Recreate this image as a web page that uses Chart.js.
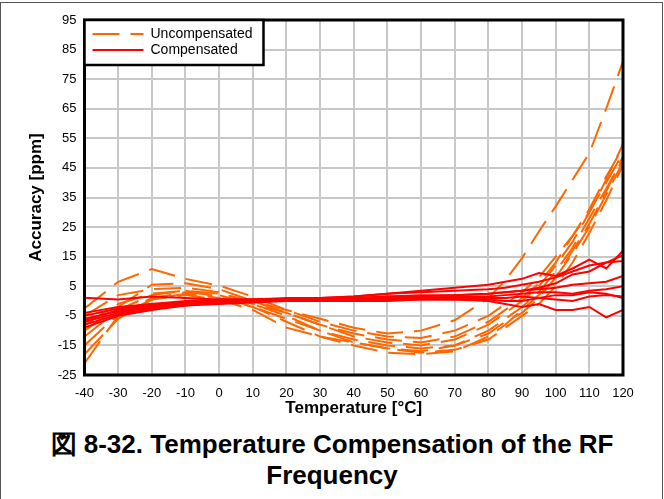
<!DOCTYPE html>
<html>
<head>
<meta charset="utf-8">
<script src="https://cdn.jsdelivr.net/npm/chart.js@4"></script>
<style>
  html, body { margin: 0; padding: 0; background: #fff; }
  body { width: 664px; height: 499px; overflow: hidden; position: relative; font-family: "Liberation Sans", Arial, sans-serif; }
  #frame { position: absolute; left: 0; top: 2px; width: 661px; height: 540px; border: 1px solid #555; }
  #wrap { position: absolute; left: 0; top: 0; width: 664px; height: 420px; }
  #caption { position: absolute; left: 0; top: 429px; width: 664px; text-align: center; font-weight: bold; font-size: 26px; line-height: 31px; color: #000; }
</style>
</head>
<body>
<div id="frame"></div>
<div id="wrap"><canvas id="chart" width="664" height="420"></canvas></div>
<div id="caption">図 8-32. Temperature Compensation of the RF<br>Frequency</div>
<script>
// temperatures (°C)
const temps = [-40, -30, -20, -10, 0, 10, 20, 30, 40, 50, 60, 70, 80, 85, 90, 95, 100, 105, 110, 115, 120];

// uncompensated units (ppm)
const uncomp1 = [-2.5, 6.5, 10.8, 7.5, 5.2, 1.5, -3, -7, -10, -12, -12.5, -10, -5, -1, 3, 8, 15, 22, 30, 40, 50];
const uncomp2 = [-8, -1, 2.5, 3.5, 2.5, 0, -3, -6, -9, -11, -10, -6.5, 1, 7, 14.5, 23.5, 32, 41, 50, 65, 81];
const uncomp3 = [-10, -2, 5.5, 6, 4, 0, -4, -8, -12, -14, -15, -13, -8, -4, 0, 5, 12, 20, 30, 41, 53];
const uncomp4 = [-15, -4.5, 1, 3, 2, -1, -5, -10, -14, -16, -17, -15, -10, -6, -2, 3, 10, 18, 28, 38, 48];
const uncomp5 = [-21, -5, 0.5, 2.5, 1, -2, -7, -12, -15, -17.5, -18, -17, -12, -8, -3, 2, 8, 16, 25, 36, 47];
const uncomp6 = [-5, 2, 4, 4.5, 3, -1, -4, -8, -11, -13, -14, -12, -7, -3, 1, 6, 13, 22, 31, 42, 52];
const uncomp7 = [-12, -3, 2, 3.5, 1.5, -2, -6, -10, -13, -15, -16, -15, -11, -7, -4, 1, 8, 17, 26, 37, 49];
const uncomp8 = [-18, -6, 0.5, 2, 0.5, -3, -9, -12, -14, -16, -17.5, -16.5, -13, -9, -5, -1, 5, 13, 23, 34, 46];

// compensated units (ppm)
const comp1 = [1.1, 0.5, 1.5, 1, 0.5, 0.5, 0.5, 1, 1.5, 2.5, 3.5, 4.5, 5.5, 6.5, 7.5, 9.5, 8.5, 11, 14, 11, 17];
const comp2 = [-5, -2.5, -1, 0, 0.5, 0.5, 1, 1, 1.5, 2.5, 3, 3.5, 4, 4.5, 5.5, 6.5, 8, 10, 12, 13, 15.5];
const comp3 = [-6, -3.5, -2, -1, 0, 0, 0.5, 0.5, 1, 1.5, 2, 2, 2.5, 3, 3.5, 4, 4.5, 5.5, 6, 6.5, 8.5];
const comp4 = [-7, -4, -2, -1, -0.5, 0, 0, 0.5, 0.5, 1, 1, 1.5, 1.5, 2, 2.5, 3, 3, 2.5, 3.5, 4, 5];
const comp5 = [-8, -4.5, -2.5, -1.5, -0.5, 0, 0, 0, 0.5, 0.5, 0.5, 0.5, 0.5, 0, 0, 1, 2, 2, 3, 2.5, 1];
const comp6 = [-9, -5, -3, -1.5, -1, -0.5, 0, 0, 0, 0, 0.5, 0.5, 0, -1, -2, -1, -3, -3, -2, -5.5, -3];
const comp7 = [-4, -2, -1, -0.5, 0, 0.5, 0.5, 0.5, 1, 1.5, 1.5, 2, 2.5, 3, 3.5, 4.5, 6, 9, 10, 13, 13.5];
const comp8 = [-6.5, -3, -1.5, -0.5, 0, 0.5, 0.5, 0.5, 1, 1, 1, 1, 1, 1, 1.5, 1, 0.5, 0, 1.5, 2, 1.5];

const uncompSeries = [uncomp1, uncomp2, uncomp3, uncomp4, uncomp5, uncomp6, uncomp7, uncomp8];
const compSeries = [comp1, comp2, comp3, comp4, comp5, comp6, comp7, comp8];

const legendLabels = ["Uncompensated", "Compensated"];
const xMin = -40, xMax = 120, xStep = 10;
const yMin = -25, yMax = 95, yStep = 10;

const ORANGE = "rgb(255,102,0)";
const RED = "rgb(255,0,0)";
const DASH = [27, 11];
const FONT = "'Liberation Sans', Arial, sans-serif";

function toPoints(vals) {
  return vals.map((v, i) => ({ x: temps[i], y: v }));
}

const datasets = [];
// first dataset is drawn on top, so compensated goes first
compSeries.forEach((s, i) => datasets.push({
  label: legendLabels[1] + " " + (i + 1),
  data: toPoints(s),
  borderColor: RED,
  borderWidth: 2,
  pointRadius: 0,
  tension: 0
}));
uncompSeries.forEach((s, i) => datasets.push({
  label: legendLabels[0] + " " + (i + 1),
  data: toPoints(s),
  borderColor: ORANGE,
  borderWidth: 2,
  borderDash: DASH,
  pointRadius: 0,
  tension: 0
}));

// frame around the plot and the boxed legend in the top-left corner
const frameAndLegend = {
  id: "frameAndLegend",
  afterDraw(chart) {
    const { ctx, chartArea: a } = chart;
    ctx.save();
    ctx.strokeStyle = "#000";
    ctx.lineWidth = 3;
    ctx.strokeRect(a.left, a.top, a.right - a.left, a.bottom - a.top);

    const bx = a.left, by = a.top, bw = 179, bh = 45;
    ctx.fillStyle = "#fff";
    ctx.fillRect(bx, by, bw, bh);
    ctx.lineWidth = 2.5;
    ctx.strokeRect(bx, by, bw, bh);

    const styles = [{ c: ORANGE, d: DASH }, { c: RED, d: [] }];
    ctx.font = "14px " + FONT;
    ctx.textBaseline = "middle";
    legendLabels.forEach((lab, i) => {
      const y = by + 14 + i * 16;
      ctx.beginPath();
      ctx.setLineDash(styles[i].d);
      ctx.strokeStyle = styles[i].c;
      ctx.lineWidth = 2;
      ctx.moveTo(bx + 8, y);
      ctx.lineTo(bx + 59, y);
      ctx.stroke();
      ctx.setLineDash([]);
      ctx.fillStyle = "#000";
      ctx.fillText(lab, bx + 66, y);
    });
    ctx.restore();
  }
};

new Chart(document.getElementById("chart"), {
  type: "line",
  data: { datasets },
  options: {
    responsive: false,
    animation: false,
    devicePixelRatio: 1,
    layout: { padding: { top: 20, right: 41, left: 0, bottom: 0 } },
    plugins: { legend: { display: false }, tooltip: { enabled: false } },
    scales: {
      x: {
        type: "linear",
        min: xMin,
        max: xMax,
        afterFit: (s) => { s.height = 45; },
        ticks: { stepSize: xStep, color: "#000", padding: 11, font: { size: 13, family: FONT } },
        grid: { color: "#c8c8c8", lineWidth: 2, drawTicks: false },
        border: { display: false },
        title: { display: true, text: "Temperature [°C]", color: "#000", padding: { top: 0, bottom: 1 }, font: { size: 17, weight: "bold", family: FONT } }
      },
      y: {
        min: yMin,
        max: yMax,
        afterFit: (s) => { s.width = 84.5; },
        ticks: { stepSize: yStep, color: "#000", padding: 8, font: { size: 13, family: FONT } },
        grid: { color: "#c8c8c8", lineWidth: 2, drawTicks: false },
        border: { display: false },
        title: { display: true, text: "Accuracy [ppm]", color: "#000", padding: { top: 26, bottom: 0 }, font: { size: 17, weight: "bold", family: FONT } }
      }
    }
  },
  plugins: [frameAndLegend]
});
</script>
</body>
</html>
